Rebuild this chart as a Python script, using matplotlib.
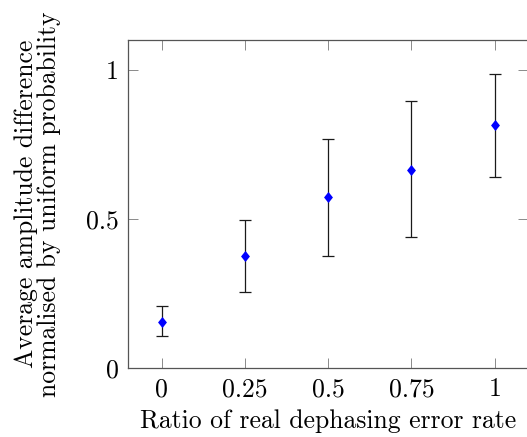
import numpy as np
import matplotlib
matplotlib.use("Agg")
import matplotlib.pyplot as plt

plt.rcParams['font.family'] = ['cmr10', 'DejaVu Serif']
plt.rcParams['mathtext.fontset'] = 'cm'
plt.rcParams['axes.unicode_minus'] = False

# data
ratio = [0, 0.25, 0.5, 0.75, 1]
mean_diff = [0.155, 0.374, 0.572, 0.665, 0.813]
err_top = [0.207, 0.495, 0.768, 0.894, 0.987]
err_bottom = [0.105, 0.254, 0.376, 0.438, 0.640]

x_ticks = [0, 0.25, 0.5, 0.75, 1]
x_labels = ["0", "0.25", "0.5", "0.75", "1"]
y_ticks = [0, 0.5, 1]
y_labels = ["0", "0.5", "1"]

mean_diff = np.array(mean_diff)
yerr = [mean_diff - np.array(err_bottom), np.array(err_top) - mean_diff]

# pgfplots-like diamond, taller than wide
diamond = [(0, 1), (0.8, 0), (0, -1), (-0.8, 0), (0, 1)]

fig = plt.figure(figsize=(5.27, 4.37), dpi=100)
ax = fig.add_axes([0.2435, 0.1586, 0.7585, 0.75])

ax.errorbar(ratio, mean_diff, yerr=yerr, fmt='none', ecolor='#1a1a1a',
            elinewidth=0.9, capsize=4, capthick=0.9)
ax.plot(ratio, mean_diff, linestyle='none', marker=diamond, markersize=8,
        color='blue', markeredgewidth=0, zorder=3)

ax.set_xlim(-0.1, 1.1)
ax.set_ylim(0, 1.1)
ax.set_xticks(x_ticks)
ax.set_xticklabels(x_labels)
ax.set_yticks(y_ticks)
ax.set_yticklabels(y_labels)
ax.tick_params(direction='in', length=7, width=0.6, color='#777777',
               top=True, right=True, labelsize=18.5, pad=7)
for s in ax.spines.values():
    s.set_color('#555555')
    s.set_linewidth(0.9)

ax.set_xlabel("Ratio of real dephasing error rate", fontsize=18.5, labelpad=6)
ax.set_ylabel("Average amplitude difference\nnormalised by uniform probability",
              fontsize=18.5, labelpad=18, linespacing=0.95)

fig.savefig("out.png", dpi=100)
